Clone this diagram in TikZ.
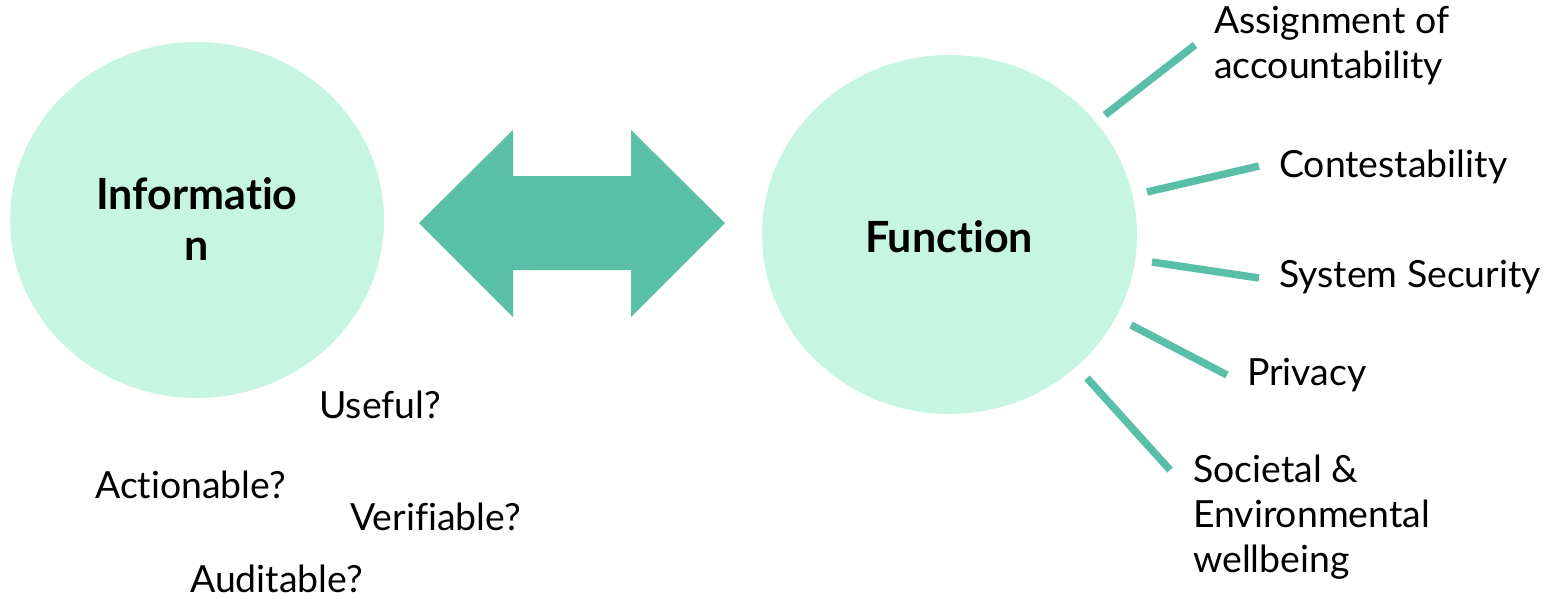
\documentclass[tikz,border=0pt]{standalone}
\usepackage{fontspec}
\setmainfont{Lato}[Ligatures=NoCommon]
\definecolor{circfill}{HTML}{C6F6E2}
\definecolor{teal}{HTML}{5ABFA9}
\begin{document}
\begin{tikzpicture}[x=1pt,y=-1pt,
  ray/.style={draw=teal, line width=7.5pt},
  lbl/.style={anchor=base west, inner sep=0pt, align=left, font=\fontsize{37.4}{45}\selectfont},
  big/.style={font=\fontsize{43}{51}\selectfont\bfseries, align=center, inner sep=0pt}]
\useasboundingbox (0,0) rectangle (1551,598);
\fill[circfill] (197,220) ellipse [x radius=187, y radius=178];
\node[big, anchor=base] (info) at (197,260) {Informatio\\n};
\fill[circfill] (949.5,234.5) ellipse [x radius=187.5, y radius=179.5];
\node[big, anchor=base] (func) at (949,252) {Function};
\fill[teal] (419,223) -- (513,130) -- (513,176) -- (631,176) -- (631,130) -- (725,223)
  -- (631,317) -- (631,270) -- (513,270) -- (513,317) -- cycle;
% rays
\coordinate (a1) at (1105,115); \coordinate (a2) at (1195,45);
\coordinate (c1) at (1147,192); \coordinate (c2) at (1259,166);
\coordinate (s1) at (1152,262); \coordinate (s2) at (1259,278);
\coordinate (p1) at (1131,325); \coordinate (p2) at (1227,375);
\coordinate (e1) at (1087,378); \coordinate (e2) at (1170,470);
\draw[ray] (a1) -- (a2);
\draw[ray] (c1) -- (c2);
\draw[ray] (s1) -- (s2);
\draw[ray] (p1) -- (p2);
\draw[ray] (e1) -- (e2);
\node[lbl] (assign) at (1214,78) {Assignment of\\accountability};
\node[lbl] (contest) at (1279,177) {Contestability};
\node[lbl] (sec) at (1279,287) {System Security};
\node[lbl] (priv) at (1247,385) {Privacy};
\node[lbl] (soc) at (1193,572) {Societal \&\\Environmental\\wellbeing};
\node[lbl] (useful) at (319,418) {Useful?};
\node[lbl] (action) at (95,498) {Actionable?};
\node[lbl] (verif) at (350,530) {Verifiable?};
\node[lbl] (audit) at (190,592) {Auditable?};
\end{tikzpicture}
\end{document}
